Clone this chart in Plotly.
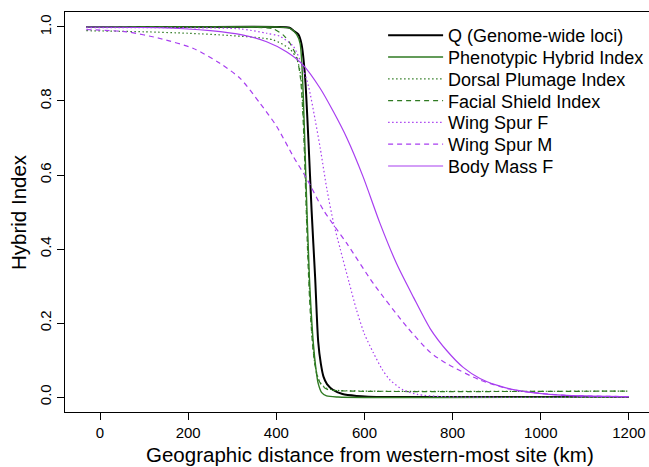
import plotly.graph_objects as go

# ---- data ----
q_x = [-31, 200, 400, 430, 439, 450, 457, 465, 473, 480, 488, 495, 501, 507, 515, 529, 550, 582, 650, 1200]
q_y = [1, 1, 1, 0.998, 0.99, 0.98, 0.955, 0.87, 0.69, 0.505, 0.325, 0.15, 0.09, 0.055, 0.035, 0.019, 0.008, 0.003, 0, 0]

phi_x = [-31, 200, 400, 430, 446, 454, 461, 467, 475, 484, 490, 495, 503, 514, 540, 1200]
phi_y = [1, 1, 1, 0.997, 0.98, 0.955, 0.82, 0.595, 0.325, 0.145, 0.075, 0.037, 0.012, 0.003, 0, 0]

dpi_x = [-31, 100, 200, 295, 393, 431, 446, 454, 458, 462, 466, 470, 475, 481, 488, 498, 510, 530, 600, 1200]
dpi_y = [0.99, 0.987, 0.983, 0.977, 0.965, 0.94, 0.915, 0.88, 0.83, 0.74, 0.6, 0.45, 0.3, 0.17, 0.085, 0.042, 0.026, 0.019, 0.016, 0.016]

fsi_x = [-31, 200, 350, 393, 416, 431, 446, 455, 460, 464, 468, 472, 477, 484, 492, 502, 515, 540, 1200]
fsi_y = [1, 1, 0.999, 0.995, 0.978, 0.956, 0.92, 0.86, 0.77, 0.65, 0.5, 0.36, 0.23, 0.12, 0.06, 0.033, 0.021, 0.017, 0.016]

wsf_x = [-31, 200, 318, 378, 408, 439, 457, 473, 488, 500, 515, 530, 545, 565, 582, 600, 620, 640, 658, 688, 720, 780, 1200]
wsf_y = [0.998, 0.998, 0.995, 0.983, 0.975, 0.947, 0.90, 0.84, 0.75, 0.67, 0.56, 0.47, 0.40, 0.31, 0.235, 0.17, 0.12, 0.075, 0.046, 0.019, 0.007, 0.001, 0]

wsm_x = [-31, 60, 136, 212, 272, 318, 363, 401, 439, 469, 507, 560, 620, 696, 750, 787, 862, 938, 1050, 1200]
wsm_y = [0.993, 0.987, 0.969, 0.942, 0.902, 0.861, 0.794, 0.731, 0.649, 0.59, 0.505, 0.415, 0.307, 0.19, 0.12, 0.09, 0.046, 0.019, 0.005, 0.001]

bmf_x = [-31, 136, 250, 325, 378, 423, 461, 499, 530, 560, 597, 635, 673, 711, 749, 787, 824, 862, 900, 938, 1013, 1100, 1200]
bmf_y = [1.0, 0.998, 0.99, 0.978, 0.96, 0.933, 0.897, 0.835, 0.77, 0.70, 0.595, 0.47, 0.36, 0.27, 0.185, 0.125, 0.08, 0.05, 0.032, 0.02, 0.008, 0.003, 0.001]

x_ticks = [0, 200, 400, 600, 800, 1000, 1200]
y_ticks = [0.0, 0.2, 0.4, 0.6, 0.8, 1.0]

GREEN = "#2f7a22"
PURPLE = "#a83ef0"
DOT = "1.5px,2.5px"
DASH = "5px,4px"

series = [
    ("Q (Genome-wide loci)", q_x, q_y, "black", "solid", 2),
    ("Phenotypic Hybrid Index", phi_x, phi_y, GREEN, "solid", 1.4),
    ("Dorsal Plumage Index", dpi_x, dpi_y, GREEN, DOT, 1.2),
    ("Facial Shield Index", fsi_x, fsi_y, GREEN, DASH, 1.2),
    ("Wing Spur F", wsf_x, wsf_y, PURPLE, DOT, 1.2),
    ("Wing Spur M", wsm_x, wsm_y, PURPLE, DASH, 1.2),
    ("Body Mass F", bmf_x, bmf_y, PURPLE, "solid", 1.2),
]

FONT = "Liberation Sans, Arial, Helvetica, sans-serif"
TOP, PLOT_H = 12, 400
ROW0, ROW_STEP = 35.5, 21.8   # legend row centres in pixels (reference spacing)

fig = go.Figure()
legend_layout = {}
for i, (name, xs, ys, col, dash, w) in enumerate(series):
    key = "legend" if i == 0 else f"legend{i + 1}"
    fig.add_trace(go.Scatter(
        x=xs, y=ys, mode="lines", name=name, legend=key,
        line=dict(color=col, dash=dash, width=w, shape="spline", smoothing=0.7),
    ))
    row_px = ROW0 + i * ROW_STEP
    legend_layout[key] = dict(
        x=0.5447, y=(TOP + PLOT_H - row_px) / PLOT_H, xanchor="left", yanchor="middle",
        bgcolor="rgba(0,0,0,0)", borderwidth=0,
        font=dict(family=FONT, size=18, color="black"),
        itemwidth=55,
    )

fig.update_layout(
    width=649, height=467,
    margin=dict(l=65, r=0, t=TOP, b=467 - TOP - PLOT_H, autoexpand=False),
    paper_bgcolor="white", plot_bgcolor="white",
    font=dict(family=FONT, size=15, color="black"),
    showlegend=True,
    xaxis=dict(
        range=[-79.4, 1245.5], tickvals=x_ticks, automargin=False,
        showline=True, linecolor="black", linewidth=1, mirror=True,
        ticks="outside", ticklen=7, tickcolor="black", tickwidth=1,
        showgrid=False, zeroline=False,
        tickfont=dict(family=FONT, size=15),
    ),
    yaxis=dict(
        range=[-0.0405, 1.0405], tickvals=y_ticks, tickformat=".1f", automargin=False,
        showline=True, linecolor="black", linewidth=1, mirror=True,
        ticks="outside", ticklen=7, tickcolor="black", tickwidth=1,
        showgrid=False, zeroline=False, tickangle=-90,
        tickfont=dict(family=FONT, size=15),
    ),
    annotations=[
        dict(text="Geographic distance from western-most site (km)", xref="paper", yref="paper",
             x=0.522, y=-0.107, xanchor="center", yanchor="middle", showarrow=False,
             font=dict(family=FONT, size=20.5)),
        dict(text="Hybrid Index", xref="paper", yref="paper", textangle=-90,
             x=-0.0805, y=0.5, xanchor="center", yanchor="middle", showarrow=False,
             font=dict(family=FONT, size=20.5)),
    ],
    **legend_layout,
)

fig.write_html(
    "out.html",
    config={"displayModeBar": False},
    post_script="document.body.style.margin='0px';document.body.style.overflow='hidden';",
)
